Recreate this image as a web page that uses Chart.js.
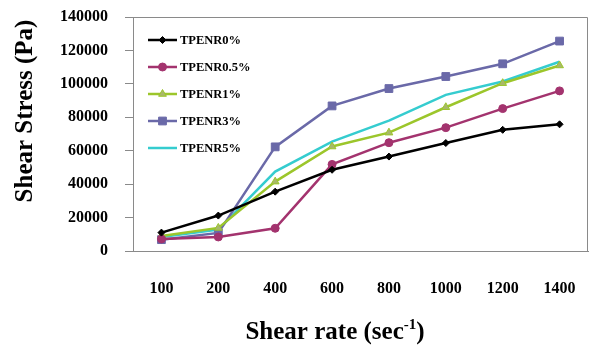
<!DOCTYPE html>
<html><head><meta charset="utf-8">
<script src="https://cdn.jsdelivr.net/npm/chart.js@4/dist/chart.umd.min.js"></script>
<style>html,body{margin:0;padding:0;background:#fff}#wrap{width:590px;height:347px}</style>
</head><body><div id="wrap"><canvas id="c" width="590" height="347"></canvas></div>
<script>
const categories = ['100','200','400','600','800','1000','1200','1400'];
const seriesNames = ['TPENR0%','TPENR0.5%','TPENR1%','TPENR3%','TPENR5%'];
const tpenr0  = [11000, 21200, 35500, 48600, 56500, 64600, 72500, 75800];
const tpenr05 = [7200, 8400, 13600, 51800, 64800, 73800, 85200, 95800];
const tpenr1  = [9000, 13800, 41500, 62500, 70800, 86000, 100400, 111000];
const tpenr3  = [6800, 10800, 62300, 86800, 97200, 104400, 112000, 125600];
const tpenr5  = [8400, 12800, 47500, 65400, 78000, 93400, 101400, 113200];
const yTicks = [0, 20000, 40000, 60000, 80000, 100000, 120000, 140000];

const FONT = '"Liberation Serif", "Times New Roman", serif';
const colors = ['#000000', '#A3336E', '#9CC62B', '#6A69A8', '#35CCCF'];
const styles = ['rectRot', 'circle', 'triangle', 'rect', false];
const radii = [3.5, 4, 4.5, 5.5, 0];
const values = [tpenr0, tpenr05, tpenr1, tpenr3, tpenr5];

const datasets = seriesNames.map((n, i) => ({
  label: n, data: values[i], borderColor: colors[i], backgroundColor: i===2 ? '#A8B86A' : colors[i],
  borderWidth: 2.5, pointStyle: styles[i], pointRadius: radii[i], pointBorderWidth: 1,
  pointBorderColor: colors[i], tension: 0, fill: false
}));

const overlay = {
  id: 'overlay',
  afterDraw(chart) {
    const ctx = chart.ctx, a = chart.chartArea;
    ctx.save();
    ctx.strokeStyle = '#8a8a8a'; ctx.lineWidth = 1;
    ctx.beginPath();
    ctx.moveTo(a.left, a.top + 0.5); ctx.lineTo(a.right - 0.5, a.top + 0.5); ctx.lineTo(a.right - 0.5, a.bottom);
    ctx.stroke();
    // legend
    const rows = [40, 67, 94, 121, 148];
    ctx.font = 'bold 12.5px ' + FONT;
    ctx.textBaseline = 'middle'; ctx.textAlign = 'left';
    chart.data.datasets.forEach((ds, i) => {
      const y = rows[i];
      ctx.strokeStyle = ds.borderColor; ctx.lineWidth = 2.5;
      ctx.beginPath(); ctx.moveTo(148, y); ctx.lineTo(177, y); ctx.stroke();
      if (ds.pointStyle) {
        ctx.fillStyle = ds.backgroundColor; ctx.strokeStyle = ds.borderColor; ctx.lineWidth = 1;
        Chart.helpers.drawPoint(ctx, {pointStyle: ds.pointStyle, radius: ds.pointRadius, rotation: 0, borderWidth: 1}, 162.5, y);
      }
      ctx.fillStyle = '#000';
      ctx.fillText(ds.label, 180, y + 1);
    });
    // axis titles
    ctx.fillStyle = '#000';
    ctx.font = 'bold 25px ' + FONT;
    ctx.save();
    ctx.translate(26, 111); ctx.rotate(-Math.PI / 2);
    ctx.textAlign = 'center'; ctx.textBaseline = 'middle';
    ctx.fillText('Shear Stress (Pa)', 0, 0);
    ctx.restore();
    // x title with superscript
    const p1 = 'Shear rate (sec', sup = '-1', p2 = ')';
    ctx.font = 'bold 25px ' + FONT;
    const w1 = ctx.measureText(p1).width, w3 = ctx.measureText(p2).width;
    ctx.font = 'bold 15px ' + FONT;
    const w2 = ctx.measureText(sup).width;
    let x = 335 - (w1 + w2 + w3) / 2;
    ctx.textAlign = 'left'; ctx.textBaseline = 'alphabetic';
    ctx.font = 'bold 25px ' + FONT; ctx.fillText(p1, x, 339); x += w1;
    ctx.font = 'bold 15px ' + FONT; ctx.fillText(sup, x, 329); x += w2;
    ctx.font = 'bold 25px ' + FONT; ctx.fillText(p2, x, 339);
    ctx.restore();
  }
};

new Chart(document.getElementById('c'), {
  type: 'line',
  data: { labels: categories, datasets },
  options: {
    responsive: false, animation: false, devicePixelRatio: 1,
    layout: { autoPadding: false, padding: { left: 0, top: 17, right: 2, bottom: 0 } },
    plugins: { legend: { display: false }, tooltip: { enabled: false } },
    scales: {
      x: {
        offset: true,
        grid: { display: false, drawTicks: false },
        border: { display: true, color: '#8a8a8a', width: 1 },
        ticks: { color: '#000', font: { family: FONT, size: 16, weight: 'bold' }, padding: 28, maxRotation: 0 },
        afterFit(s) { s.height = 96; s.paddingLeft = 0; s.paddingRight = 0; }
      },
      y: {
        min: 0, max: 140000,
        afterBuildTicks(s) { s.ticks = yTicks.map(v => ({ value: v })); },
        grid: { display: true, drawOnChartArea: false, drawTicks: true, tickLength: 8, color: '#8a8a8a' },
        border: { display: true, color: '#8a8a8a', width: 1 },
        ticks: { color: '#000', font: { family: FONT, size: 16, weight: 'bold' }, padding: 17, callback: v => String(v) },
        afterFit(s) { s.width = 133; s.paddingTop = 0; s.paddingBottom = 0; }
      }
    }
  },
  plugins: [overlay]
});
</script>
</body></html>
